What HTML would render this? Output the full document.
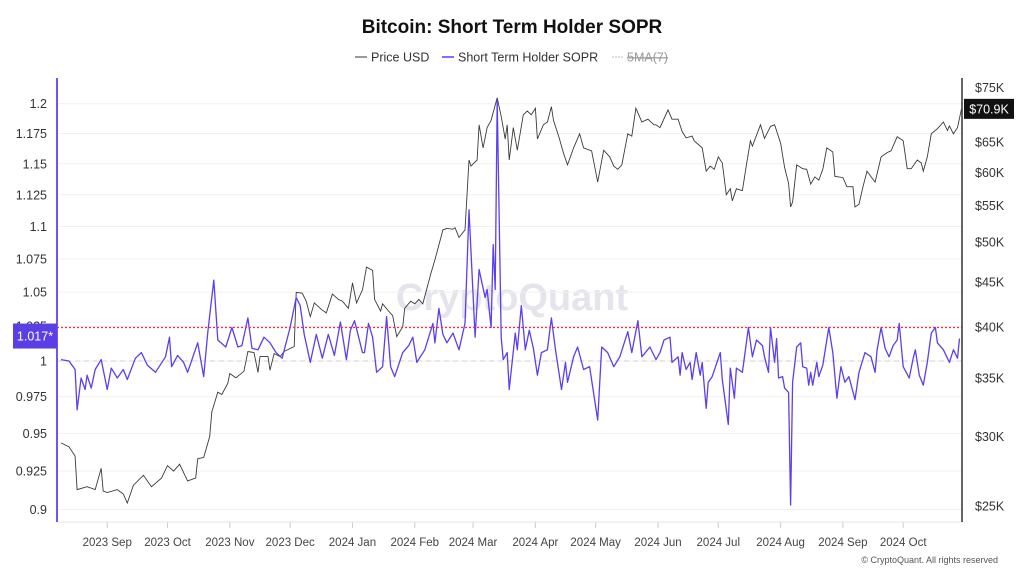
<!DOCTYPE html>
<html><head><meta charset="utf-8"><style>
html,body{margin:0;padding:0;background:#fff;}
body{width:1024px;height:575px;overflow:hidden;font-family:"Liberation Sans",sans-serif;}
svg text{font-family:"Liberation Sans",sans-serif;}
</style></head><body>
<svg id="chart" width="1024" height="575" viewBox="0 0 1024 575" xmlns="http://www.w3.org/2000/svg">
<text x="512" y="33" text-anchor="middle" font-size="19" font-weight="bold" fill="#111">Bitcoin: Short Term Holder SOPR</text>
<g font-size="12.5" fill="#333">
 <g><line x1="355" y1="57" x2="367" y2="57" stroke="#555" stroke-width="1.2"/><text x="371" y="61.5">Price USD</text></g>
 <g><line x1="442" y1="57" x2="454" y2="57" stroke="#5b3ff0" stroke-width="1.5"/><text x="458" y="61.5">Short Term Holder SOPR</text></g>
 <g><line x1="612" y1="57" x2="624" y2="57" stroke="#bbb" stroke-width="1" stroke-dasharray="2,1"/><text x="627" y="61.5" fill="#999" text-decoration="line-through">5MA(7)</text></g>
</g>
<text x="512" y="310" text-anchor="middle" font-size="38" font-weight="bold" fill="#e4e4ec">CryptoQuant</text>
<g id="grid"></g><g id="marks"></g><g id="axes"></g>
<text x="998" y="563" text-anchor="end" font-size="9" fill="#555">© CryptoQuant. All rights reserved</text>
</svg>
<script>
const leftTicks=[1.2,1.175,1.15,1.125,1.1,1.075,1.05,1.025,1,0.975,0.95,0.925,0.9];
const leftTickLabels=["1.2","1.175","1.15","1.125","1.1","1.075","1.05","1.025","1","0.975","0.95","0.925","0.9"];
const rightTicks=[75,65,60,55,50,45,40,35,30,25];
const rightTickLabels=["$75K","$65K","$60K","$55K","$50K","$45K","$40K","$35K","$30K","$25K"];
const monthDays=[24,54,85,115,146,177,206,237,267,298,328,359,390,420];
const monthLabels=["2023 Sep","2023 Oct","2023 Nov","2023 Dec","2024 Jan","2024 Feb","2024 Mar","2024 Apr","2024 May","2024 Jun","2024 Jul","2024 Aug","2024 Sep","2024 Oct"];
const soprDays=[1,5,8,9,11,13,14,16,18,21,24,26,29,32,34,38,41,44,48,53,55,56,59,62,64,69,72,74,77,79,83,86,89,91,94,96,99,102,105,108,111,115,118,120,122,125,128,131,134,137,140,143,145,147,151,152,154,156,158,161,163,165,167,171,174,176,178,182,186,187,189,191,193,196,199,202,204,207,209,212,213,215,216,217,218,220,221,223,224,227,228,230,232,234,236,238,240,243,245,247,250,252,253,256,258,261,264,268,270,273,276,279,283,285,288,290,294,297,299,301,304,305,308,309,310,312,314,315,317,319,320,322,323,325,329,330,333,334,336,337,340,343,345,347,350,351,353,354,356,357,358,360,361,363,364,365,367,369,370,372,373,374,375,377,378,380,383,385,387,389,391,393,396,398,401,404,406,407,409,411,413,415,417,418,420,423,425,426,428,430,432,434,436,437,440,442,443,445,447,448];
const soprValues=[1.001,1.000,0.994,0.966,0.988,0.980,0.990,0.981,0.994,1.001,0.980,0.995,0.988,0.994,0.987,1.002,1.006,0.997,0.992,1.003,1.017,0.996,1.004,0.999,0.992,1.013,0.989,1.020,1.059,1.015,1.010,1.024,1.010,1.011,1.031,1.009,1.008,1.017,1.013,1.006,1.002,1.024,1.046,1.040,1.019,0.999,1.019,1.002,1.019,1.004,1.028,1.001,1.022,1.029,1.006,1.006,1.027,1.017,0.992,0.996,1.032,0.996,0.989,1.006,1.011,1.017,0.999,1.008,1.027,1.013,1.038,1.019,1.013,1.020,1.008,1.027,1.113,1.017,1.067,1.046,1.052,1.024,1.086,1.052,1.203,1.017,1.001,1.006,0.980,1.020,1.008,1.040,1.008,1.022,1.009,0.990,1.006,1.008,1.031,1.008,0.980,0.999,0.985,1.003,1.010,0.994,0.996,0.959,1.010,1.006,0.996,1.003,1.021,1.006,1.029,1.003,1.010,1.001,1.006,1.015,1.017,0.999,1.003,0.990,1.006,0.994,0.999,0.987,1.006,0.990,0.999,0.967,0.985,0.989,1.006,0.987,0.956,0.995,0.974,0.995,0.992,1.024,1.003,1.015,1.011,1.003,0.992,1.024,0.999,1.016,0.988,0.989,0.981,0.978,0.903,0.985,1.010,1.013,0.996,0.995,0.983,0.992,0.983,0.999,0.989,0.997,1.024,1.006,0.974,0.996,0.985,0.989,0.973,0.992,1.006,1.003,0.992,1.008,1.024,1.009,1.003,1.011,1.015,1.027,0.996,0.988,1.002,1.008,0.990,0.983,0.999,1.020,1.024,1.013,1.008,1.002,0.999,1.008,1.002,1.016];
const priceDays=[1,5,8,9,14,18,21,22,24,29,32,34,37,42,46,51,54,57,60,64,68,69,72,75,76,79,81,84,85,88,92,94,97,99,100,104,105,107,110,112,115,117,118,121,123,125,127,131,133,136,139,141,144,146,148,151,153,156,157,160,161,164,166,168,171,172,175,177,179,181,185,187,189,191,193,196,197,199,202,204,205,208,209,211,213,215,217,218,220,222,223,224,226,228,231,233,235,237,238,241,243,245,246,249,251,253,256,259,261,265,268,271,274,276,278,280,283,285,287,290,293,296,297,299,303,305,308,310,312,315,316,320,322,324,326,328,330,332,334,335,337,340,342,344,345,349,351,354,356,359,361,363,364,365,367,370,372,374,376,378,380,382,385,386,390,392,395,396,398,400,402,406,409,412,414,417,420,422,424,427,429,430,432,434,437,440,442,443,445,447,449];
const priceValues=[29.5,29.2,28.5,26.1,26.3,26.1,27.6,26.0,25.9,26.1,25.8,25.2,26.4,27.1,26.3,26.9,27.8,27.4,27.9,26.7,26.9,28.3,28.4,30.0,32.0,33.7,33.5,34.5,35.4,35.0,35.6,37.5,37.4,35.5,37.0,37.0,35.7,37.3,37.0,37.5,37.8,38.0,43.8,43.7,42.8,41.1,42.6,41.8,41.5,43.6,43.0,42.8,42.0,44.9,42.6,44.1,46.8,46.4,43.0,41.7,42.5,41.7,41.2,39.0,40.0,42.0,42.8,42.5,43.0,42.5,46.0,47.7,49.6,51.6,51.8,51.7,51.9,50.6,51.6,62.0,61.0,62.0,68.0,64.0,67.5,68.8,71.6,73.0,69.5,65.5,68.0,62.0,67.5,63.6,69.8,70.5,69.8,71.0,65.5,68.0,68.5,71.3,68.8,65.5,63.1,61.2,64.0,66.4,64.0,63.5,58.5,63.6,62.5,61.0,60.5,61.2,66.4,66.0,71.0,68.5,69.0,68.0,68.0,67.5,70.7,69.0,69.0,66.8,65.7,66.0,65.2,64.0,60.2,61.0,60.5,62.5,61.5,56.6,57.5,55.7,57.5,57.2,61.2,65.2,64.3,68.0,65.6,67.7,68.0,64.8,60.8,58.3,54.8,55.5,61.2,60.6,60.5,58.2,59.3,58.8,60.5,64.0,63.3,59.4,59.2,57.8,57.8,54.8,55.2,57.8,60.2,58.5,62.5,63.2,63.5,65.9,65.2,60.6,60.6,62.0,61.5,60.2,62.5,66.4,67.3,68.5,67.0,67.8,66.4,67.5,70.9];
const refLine=1.024;
const refLabel="1.017*";
const baseLine=1;
const lastPriceLabel="$70.9K";

const X0=59,PX=2.01,L=57,R=962,T=78,B=522;
const xS=d=>X0+d*PX;
const yL=v=>361-1411*Math.log(v);
const yR=p=>506-381*Math.log(p/25);
const NS="http://www.w3.org/2000/svg";
function mk(tag,attrs,parent,txt){const e=document.createElementNS(NS,tag);for(const k in attrs)e.setAttribute(k,attrs[k]);if(txt!==undefined)e.textContent=txt;parent.appendChild(e);return e;}
const grid=document.getElementById('grid'),marks=document.getElementById('marks'),axes=document.getElementById('axes');
leftTicks.forEach((v,i)=>{
 const y=yL(v);
 const g=mk('line',{x1:L,x2:R,y1:y,y2:y,stroke:'#f1f1f1','stroke-width':1},grid);
 
 
 const t=mk('text',{x:47,y:y+4.5,'text-anchor':'end','font-size':12.5,fill:'#333'},axes,leftTickLabels[i]);
 
 
});
rightTicks.forEach((v,i)=>{
 const y=yR(v);
 const t=mk('text',{x:975,y:y+4.5,'font-size':12.5,fill:'#333'},axes,rightTickLabels[i]);
 
 
});
monthDays.forEach((d,i)=>{
 const x=xS(d);
 const tk=mk('line',{x1:x,x2:x,y1:B,y2:B+6,stroke:'#ccc'},axes);
 
 
 const t=mk('text',{x:x,y:546,'text-anchor':'middle','font-size':11.5,fill:'#444'},axes,monthLabels[i]);
 
 
});
const xb=mk('line',{x1:L,x2:R,y1:B,y2:B,stroke:'#e6e6e6'},axes);


const bl=mk('line',{x1:L,x2:R,y1:yL(baseLine),y2:yL(baseLine),stroke:'#d0d0d8','stroke-dasharray':'5,4','stroke-width':1},grid);


const pp=mk('path',{d:priceDays.map((d,i)=>(i?'L':'M')+xS(d).toFixed(1)+','+yR(priceValues[i]).toFixed(1)).join(''),fill:'none',stroke:'#3a3a3a','stroke-width':0.9},marks);


const sp=mk('path',{d:soprDays.map((d,i)=>(i?'L':'M')+xS(d).toFixed(1)+','+yL(soprValues[i]).toFixed(1)).join(''),fill:'none',stroke:'#5b3ff0','stroke-width':1.3,'stroke-linejoin':'round'},marks);


const rl=mk('line',{x1:L,x2:R,y1:yL(refLine),y2:yL(refLine),stroke:'#ff2a2a','stroke-dasharray':'2,2','stroke-width':1.3},marks);


const la=mk('line',{x1:L,x2:L,y1:T,y2:B,stroke:'#6f55f5','stroke-width':2},axes);


const ra=mk('line',{x1:R,x2:R,y1:T,y2:B,stroke:'#333','stroke-width':1.5},axes);


const ry=yL(refLine);
const lb=mk('rect',{x:13,y:ry-4,width:44,height:25,fill:'#5b3fe6'},axes);


const lt=mk('text',{x:35,y:ry+13,'text-anchor':'middle','font-size':12.5,fill:'#fff'},axes,refLabel);


const py=yR(priceValues[priceValues.length-1]);
const pb=mk('rect',{x:964,y:py-10,width:50,height:20,fill:'#111'},axes);


const pt=mk('text',{x:989,y:py+4.5,'text-anchor':'middle','font-size':12.5,fill:'#fff'},axes,lastPriceLabel);


</script>
</body></html>
